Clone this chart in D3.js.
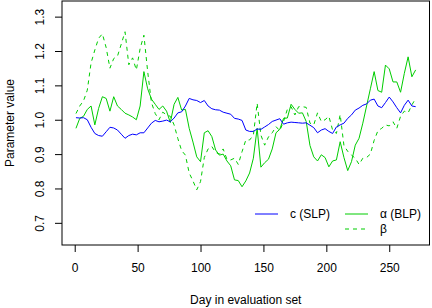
<!DOCTYPE html>
<html>
<head>
<meta charset="utf-8">
<script src="https://cdn.jsdelivr.net/npm/d3@7"></script>
<style>
  body { margin: 0; background: #fff; }
  svg { display: block; font-family: "Liberation Sans", Arial, sans-serif; }
</style>
</head>
<body>
<svg id="chart" width="432" height="308"></svg>
<script>
// day index of every sample (every third day of the evaluation set)
const days = d3.range(1, 272, 3);

// c (SLP)
const cSLP = [1.006, 1.005, 1.006, 1.000, 0.978, 0.960, 0.954, 0.952, 0.965, 0.978,
  0.976, 0.970, 0.958, 0.946, 0.954, 0.958, 0.956, 0.962, 0.962, 0.976,
  0.990, 0.998, 0.994, 0.996, 0.999, 0.994, 1.005, 1.020, 1.023, 1.040,
  1.062, 1.058, 1.056, 1.050, 1.056, 1.040, 1.032, 1.029, 1.028, 1.022,
  1.019, 1.016, 1.004, 1.002, 0.998, 0.970, 0.966, 0.966, 0.973, 0.972,
  0.979, 0.986, 0.995, 0.999, 1.003, 0.987, 0.991, 0.993, 0.992, 0.991,
  0.990, 0.991, 0.984, 0.977, 0.962, 0.970, 0.974, 0.966, 0.960, 0.979,
  0.985, 0.990, 1.004, 1.014, 1.028, 1.034, 1.042, 1.046, 1.057, 1.060,
  1.040, 1.035, 1.050, 1.066, 1.052, 1.035, 1.020, 1.042, 1.057, 1.040,
  1.038];

// alpha (BLP)
const alphaBLP = [0.975, 1.004, 1.010, 1.030, 1.040, 0.985, 1.033, 1.067, 1.062, 1.025,
  1.067, 1.040, 1.030, 1.019, 1.014, 1.008, 1.000, 1.040, 1.140, 1.090,
  1.060, 1.045, 1.030, 1.040, 1.025, 0.992, 1.045, 1.065, 1.028, 1.030,
  0.975, 0.935, 0.892, 0.878, 0.962, 0.968, 0.951, 0.912, 0.897, 0.900,
  0.880, 0.866, 0.825, 0.823, 0.805, 0.822, 0.845, 0.888, 0.975, 0.862,
  0.875, 0.885, 0.915, 0.962, 0.972, 1.004, 1.005, 1.045, 1.030, 1.019,
  1.020, 0.995, 0.925, 0.892, 0.880, 0.898, 0.890, 0.863, 0.880, 0.883,
  0.936, 0.890, 0.852, 0.878, 0.926, 0.946, 0.990, 1.040, 1.090, 1.140,
  1.085, 1.080, 1.159, 1.148, 1.110, 1.110, 1.080, 1.135, 1.183, 1.125,
  1.145];

// beta (BLP)
const betaBLP = [1.018, 1.040, 1.055, 1.086, 1.165, 1.203, 1.237, 1.250, 1.210, 1.150,
  1.178, 1.185, 1.220, 1.256, 1.160, 1.180, 1.145, 1.207, 1.246, 1.140,
  1.050, 1.018, 1.000, 1.022, 1.014, 1.010, 0.985, 0.945, 0.910, 0.897,
  0.845, 0.822, 0.796, 0.820, 0.890, 0.915, 0.922, 0.905, 0.900, 0.915,
  0.885, 0.883, 0.888, 0.870, 0.907, 0.941, 0.941, 0.955, 1.048, 0.955,
  0.926, 0.950, 0.962, 0.980, 0.968, 0.995, 1.030, 1.038, 1.014, 1.038,
  1.038, 1.036, 0.990, 0.985, 1.020, 0.995, 1.000, 1.010, 0.970, 0.960,
  1.015, 0.925, 0.908, 0.897, 0.888, 0.870, 0.888, 0.890, 0.900, 0.940,
  0.968, 0.975, 0.985, 0.982, 0.994, 0.975, 1.010, 1.025, 1.020, 1.043,
  1.062];

const xTicks = [0, 50, 100, 150, 200, 250];
const yTicks = [0.7, 0.8, 0.9, 1.0, 1.1, 1.2, 1.3];

const svg = d3.select("#chart");
const pLeft = 62, pRight = 429.5, pTop = 1, pBottom = 245;

const x = d3.scaleLinear().domain([-10.1, 282.0]).range([pLeft, pRight]);
const y = d3.scaleLinear().domain([0.6355, 1.3455]).range([pBottom, pTop]);

const line = vals => d3.line()
    .x((d, i) => x(days[i]))
    .y(d => y(d))(vals);

const blue = "#0000ff", green = "#00cd00";

svg.append("path").attr("d", line(betaBLP))
    .attr("fill", "none").attr("stroke", green).attr("stroke-width", 1)
    .attr("stroke-dasharray", "4,4");
svg.append("path").attr("d", line(alphaBLP))
    .attr("fill", "none").attr("stroke", green).attr("stroke-width", 1);
svg.append("path").attr("d", line(cSLP))
    .attr("fill", "none").attr("stroke", blue).attr("stroke-width", 1);

// box
svg.append("rect")
    .attr("x", pLeft).attr("y", pTop)
    .attr("width", pRight - pLeft).attr("height", pBottom - pTop)
    .attr("fill", "none").attr("stroke", "#000").attr("stroke-width", 1);

// x axis
const xAxis = svg.append("g").attr("transform", `translate(0,${pBottom})`)
    .call(d3.axisBottom(x).tickValues(xTicks).tickSize(7).tickPadding(11).tickFormat(d3.format("d")));
xAxis.select(".domain").remove();
xAxis.selectAll("text").attr("font-size", 12).attr("fill", "#000").attr("font-family", null);

// y axis
const yAxis = svg.append("g").attr("transform", `translate(${pLeft},0)`)
    .call(d3.axisLeft(y).tickValues(yTicks).tickSize(7).tickFormat(d3.format(".1f")));
yAxis.select(".domain").remove();
yAxis.selectAll("text")
    .attr("font-size", 12).attr("fill", "#000").attr("font-family", null)
    .attr("text-anchor", "middle")
    .attr("x", null).attr("dy", "0.35em")
    .attr("transform", "translate(-22,0) rotate(-90)");

// axis titles
svg.append("text").attr("x", (pLeft + pRight) / 2).attr("y", 304)
    .attr("text-anchor", "middle").attr("font-size", 12)
    .text("Day in evaluation set");
svg.append("text")
    .attr("transform", "translate(10,123) rotate(-90)")
    .attr("dy", "0.35em")
    .attr("text-anchor", "middle").attr("font-size", 12)
    .text("Parameter value");

// legend
const legend = [
  { label: "c (SLP)", color: blue, dash: null, lx: 255, ly: 214 },
  { label: "\u03b1 (BLP)", color: green, dash: null, lx: 345, ly: 214 },
  { label: "\u03b2", color: green, dash: "4,4", lx: 345, ly: 229 }
];
legend.forEach(d => {
  svg.append("line")
      .attr("x1", d.lx).attr("x2", d.lx + 23)
      .attr("y1", d.ly).attr("y2", d.ly)
      .attr("stroke", d.color).attr("stroke-width", 1)
      .attr("stroke-dasharray", d.dash);
  svg.append("text")
      .attr("x", d.lx + 35).attr("y", d.ly).attr("dy", "0.35em")
      .attr("font-size", 12).text(d.label);
});
</script>
</body>
</html>
